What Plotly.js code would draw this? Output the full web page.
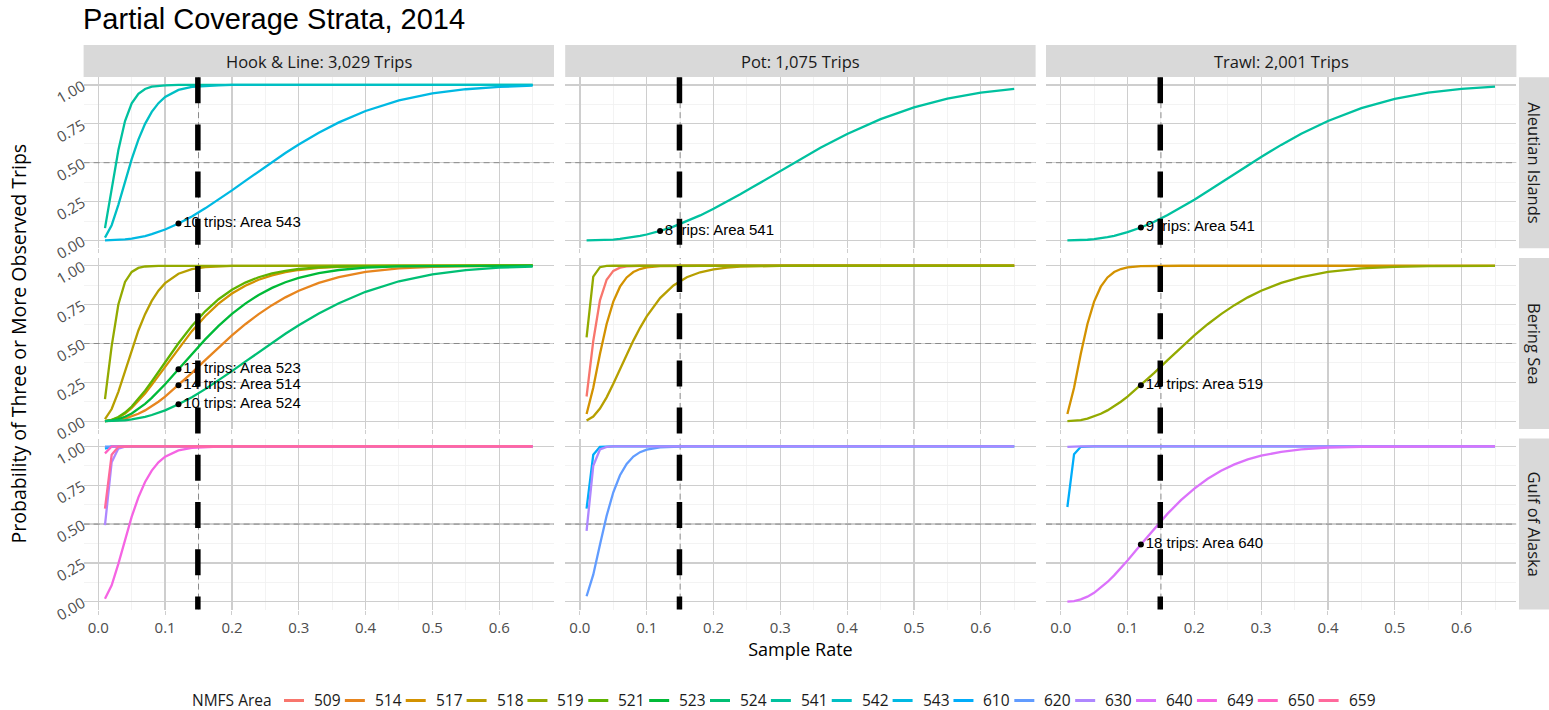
<!DOCTYPE html>
<html><head><meta charset="utf-8">
<script src="https://cdn.plot.ly/plotly-3.0.1.min.js"></script>
<style>html,body{margin:0;padding:0;background:#fff}#chart{width:1549px;height:710px}</style>
</head><body><div id="chart"></div>
<script>
// ---------------- data ----------------
const sampleRate = [0.01,0.02,0.03,0.04,0.05,0.06,0.07,0.08,0.09,0.10,0.12,0.14,0.16,0.18,0.20,0.22,0.24,0.26,0.28,0.30,0.33,0.36,0.40,0.45,0.50,0.55,0.60,0.65];

const gears = ["Hook & Line", "Pot", "Trawl"];
const gearTrips = ["3,029", "1,075", "2,001"];
const regions = ["Aleutian Islands", "Bering Sea", "Gulf of Alaska"];

const areas = ["509","514","517","518","519","521","523","524","541","542","543","610","620","630","640","649","650","659"];
const areaColors = ["#F8766D","#E7851E","#D39200","#B79F00","#93AA00","#5EB300","#00BA38","#00BF74","#00C19F","#00BFC4","#00B9E3","#00ADFA","#619CFF","#AE87FF","#DB72FB","#F564E3","#FF61C3","#FF699C"];

// Hook & Line
const hal_ai_541 = [0.079,0.323,0.580,0.768,0.882,0.943,0.974,0.989,0.995,0.998,1,1,1,1,1,1,1,1,1,1,1,1,1,1,1,1,1,1];
const hal_ai_542 = [0.018,0.098,0.229,0.378,0.523,0.649,0.750,0.827,0.883,0.923,0.968,0.988,0.995,0.998,1,1,1,1,1,1,1,1,1,1,1,1,1,1];
const hal_ai_543 = [0.0001,0.0009,0.0027,0.0062,0.0115,0.0188,0.0284,0.0401,0.0540,0.0702,0.1087,0.1545,0.2064,0.2628,0.3222,0.3832,0.4441,0.5043,0.5622,0.6172,0.6931,0.7594,0.8327,0.9004,0.9453,0.9726,0.9877,0.9952];

const hal_bs_514 = [0.0003,0.0025,0.0077,0.0167,0.0301,0.0478,0.0697,0.0958,0.1256,0.1584,0.2317,0.3111,0.3932,0.4745,0.5520,0.6239,0.6890,0.7467,0.7967,0.8392,0.8899,0.9271,0.9602,0.9830,0.9935,0.9978,0.9994,0.9999];
const hal_bs_517 = [0.0012,0.0081,0.0240,0.0497,0.0849,0.1285,0.1786,0.2337,0.2920,0.3516,0.4698,0.5794,0.6757,0.7564,0.8213,0.8720,0.9103,0.9385,0.9587,0.9729,0.9861,0.9933,0.9976,0.9994,0.9999,1,1,1];
const hal_bs_518 = [0.0138,0.0784,0.1892,0.3233,0.4594,0.5838,0.6890,0.7740,0.8395,0.8883,0.9487,0.9779,0.9910,0.9965,0.9987,0.9995,1,1,1,1,1,1,1,1,1,1,1,1];
const hal_bs_519 = [0.142,0.483,0.751,0.896,0.9605,0.986,0.9953,0.9985,0.9995,0.9999,1,1,1,1,1,1,1,1,1,1,1,1,1,1,1,1,1,1];
const hal_bs_521 = [0.0013,0.0093,0.0272,0.0559,0.0948,0.1425,0.1968,0.2558,0.3175,0.3799,0.5018,0.6123,0.7070,0.7846,0.8455,0.8919,0.9261,0.9505,0.9677,0.9793,0.9899,0.9953,0.9984,0.9996,0.9999,1,1,1];
const hal_bs_523 = [0.0006,0.0044,0.0134,0.0286,0.0503,0.0782,0.1118,0.1502,0.1928,0.2382,0.3346,0.4324,0.5266,0.6133,0.6904,0.7567,0.8123,0.8578,0.8942,0.9226,0.9532,0.9728,0.9877,0.9959,0.9988,0.9997,0.9999,1];
const hal_bs_524 = [0.0001,0.0009,0.0027,0.0062,0.0115,0.0188,0.0284,0.0401,0.0540,0.0702,0.1087,0.1545,0.2064,0.2628,0.3222,0.3832,0.4441,0.5043,0.5622,0.6172,0.6931,0.7594,0.8327,0.9004,0.9453,0.9726,0.9877,0.9952];

const hal_goa_610 = [0.986,1,1,1,1,1,1,1,1,1,1,1,1,1,1,1,1,1,1,1,1,1,1,1,1,1,1,1];
const hal_goa_620 = [0.999,1,1,1,1,1,1,1,1,1,1,1,1,1,1,1,1,1,1,1,1,1,1,1,1,1,1,1];
const hal_goa_630 = [0.494,0.898,0.986,0.9985,1,1,1,1,1,1,1,1,1,1,1,1,1,1,1,1,1,1,1,1,1,1,1,1];
const hal_goa_649 = [0.0195,0.1059,0.2445,0.4002,0.5478,0.6722,0.7710,0.8445,0.8970,0.9334,0.9737,0.9903,0.9966,0.9989,0.9997,1,1,1,1,1,1,1,1,1,1,1,1,1];
const hal_goa_650 = [0.955,0.9995,1,1,1,1,1,1,1,1,1,1,1,1,1,1,1,1,1,1,1,1,1,1,1,1,1,1];
const hal_goa_659 = [0.599,0.946,0.9969,1,1,1,1,1,1,1,1,1,1,1,1,1,1,1,1,1,1,1,1,1,1,1,1,1];

// Pot
const pot_ai_541 = [0.0001,0.0004,0.0014,0.0031,0.0058,0.0096,0.0147,0.0211,0.0289,0.0381,0.0608,0.0891,0.1226,0.1608,0.2031,0.2487,0.2967,0.3465,0.3973,0.4482,0.5236,0.5958,0.6846,0.7799,0.8555,0.9115,0.9502,0.9747];
const pot_bs_509 = [0.159,0.516,0.778,0.910,0.967,0.988,0.996,0.999,1,1,1,1,1,1,1,1,1,1,1,1,1,1,1,1,1,1,1,1];
const pot_bs_517 = [0.0465,0.2156,0.4320,0.6253,0.7694,0.8655,0.9250,0.9596,0.9789,0.9893,0.9974,0.9994,0.9999,1,1,1,1,1,1,1,1,1,1,1,1,1,1,1];
const pot_bs_518 = [0.0048,0.0301,0.0812,0.1537,0.2407,0.3344,0.4287,0.5186,0.6010,0.6745,0.7919,0.8731,0.9259,0.9583,0.9774,0.9882,0.9940,0.9971,0.9986,0.9993,1,1,1,1,1,1,1,1];
const pot_bs_519 = [0.540,0.930,0.991,0.9995,1,1,1,1,1,1,1,1,1,1,1,1,1,1,1,1,1,1,1,1,1,1,1,1];
const pot_goa_610 = [0.599,0.946,0.997,1,1,1,1,1,1,1,1,1,1,1,1,1,1,1,1,1,1,1,1,1,1,1,1,1];
const pot_goa_620 = [0.0358,0.1749,0.3672,0.5537,0.7046,0.8140,0.8875,0.9343,0.9628,0.9794,0.9941,0.9985,0.9996,1,1,1,1,1,1,1,1,1,1,1,1,1,1,1];
const pot_goa_630 = [0.456,0.875,0.980,0.997,1,1,1,1,1,1,1,1,1,1,1,1,1,1,1,1,1,1,1,1,1,1,1,1];

// Trawl
const trawl_ai_541 = [0.0001,0.0006,0.0020,0.0045,0.0084,0.0138,0.0209,0.0298,0.0405,0.0530,0.0833,0.1202,0.1629,0.2104,0.2618,0.3158,0.3713,0.4273,0.4829,0.5372,0.6146,0.6857,0.7682,0.8505,0.9102,0.9502,0.9750,0.9888];
const trawl_bs_517 = [0.0465,0.2156,0.4320,0.6253,0.7694,0.8655,0.9250,0.9596,0.9789,0.9893,0.9974,0.9994,0.9999,1,1,1,1,1,1,1,1,1,1,1,1,1,1,1];
const trawl_bs_519 = [0.0003,0.0025,0.0077,0.0167,0.0301,0.0478,0.0697,0.0958,0.1256,0.1584,0.2317,0.3111,0.3932,0.4745,0.5520,0.6239,0.6890,0.7467,0.7967,0.8392,0.8899,0.9271,0.9602,0.9830,0.9935,0.9978,0.9994,0.9999];
const trawl_goa_610 = [0.610,0.950,0.997,1,1,1,1,1,1,1,1,1,1,1,1,1,1,1,1,1,1,1,1,1,1,1,1,1];
const trawl_goa_630 = [0.997,1,1,1,1,1,1,1,1,1,1,1,1,1,1,1,1,1,1,1,1,1,1,1,1,1,1,1];
const trawl_goa_640 = [0.0007,0.0052,0.0157,0.0333,0.0581,0.0898,0.1275,0.1702,0.2168,0.2662,0.3690,0.4713,0.5673,0.6537,0.7287,0.7916,0.8430,0.8839,0.9158,0.9400,0.9652,0.9807,0.9918,0.9975,0.9993,0.9999,1,1];

// series list: [gear index, region index, area, values]
const seriesList = [
  [0,0,"541",hal_ai_541],[0,0,"542",hal_ai_542],[0,0,"543",hal_ai_543],
  [0,1,"514",hal_bs_514],[0,1,"517",hal_bs_517],[0,1,"518",hal_bs_518],[0,1,"519",hal_bs_519],
  [0,1,"521",hal_bs_521],[0,1,"523",hal_bs_523],[0,1,"524",hal_bs_524],
  [0,2,"610",hal_goa_610],[0,2,"620",hal_goa_620],[0,2,"630",hal_goa_630],[0,2,"649",hal_goa_649],
  [0,2,"650",hal_goa_650],[0,2,"659",hal_goa_659],
  [1,0,"541",pot_ai_541],
  [1,1,"509",pot_bs_509],[1,1,"517",pot_bs_517],[1,1,"518",pot_bs_518],[1,1,"519",pot_bs_519],
  [1,2,"610",pot_goa_610],[1,2,"620",pot_goa_620],[1,2,"630",pot_goa_630],
  [2,0,"541",trawl_ai_541],
  [2,1,"517",trawl_bs_517],[2,1,"519",trawl_bs_519],
  [2,2,"610",trawl_goa_610],[2,2,"630",trawl_goa_630],[2,2,"640",trawl_goa_640]
];

// labelled points
const labelGear   = [0,0,0,0,1,2,2,2];
const labelRegion = [0,1,1,1,0,0,1,2];
const labelRate   = [0.12,0.12,0.12,0.12,0.12,0.12,0.12,0.12];
const labelProb   = [0.109,0.335,0.232,0.109,0.061,0.083,0.232,0.369];
const labelText   = ["10 trips: Area 543","17 trips: Area 523","14 trips: Area 514","10 trips: Area 524",
                     "8 trips: Area 541","9 trips: Area 541","14 trips: Area 519","18 trips: Area 640"];

const targetRate = 0.15;
const halfLine = 0.5;
const xRange = [-0.022, 0.682];
const yRange = [-0.05, 1.05];
const xTicks = [0,0.1,0.2,0.3,0.4,0.5,0.6];
const xTickText = ["0.0","0.1","0.2","0.3","0.4","0.5","0.6"];
const yTicks = [0,0.25,0.5,0.75,1];
const yTickText = ["0.00","0.25","0.50","0.75","1.00"];

// ---------------- layout geometry (pixels) ----------------
const W = 1549, H = 710;
const colLeft = [83.6, 565.2, 1046.0], colWidth = 470.4;
const rowTop = [77.2, 258.0, 438.6], rowHeight = 171.0;
const px = v => v / W;
const py = v => 1 - v / H;

const uiFont = "Open Sans, sans-serif";
const arialFont = "Liberation Sans, Arial, sans-serif";
const majorGrid = "#CECECE", minorGrid = "#F0F0F0";

const layout = {
  width: W, height: H,
  margin: {l:0, r:0, t:0, b:0},
  paper_bgcolor: "#FFFFFF", plot_bgcolor: "#FFFFFF",
  showlegend: false,
  title: {text: "Partial Coverage Strata, 2014", font: {family: arialFont, size: 29, color: "#000000"},
          x: px(83), xanchor: "left", xref: "paper", y: py(19), yanchor: "middle", yref: "paper"},
  shapes: [], annotations: []
};

const axId = (r, c) => r * 3 + c + 1;
const axName = (k, l) => (k === 1 ? l : l + k);
for (let r = 0; r < 3; r++) {
  for (let c = 0; c < 3; c++) {
    const k = axId(r, c);
    const xr = axName(k, "x"), yr = axName(k, "y");
    layout[axName(k, "xaxis")] = {
      domain: [px(colLeft[c]), px(colLeft[c] + colWidth)], anchor: yr,
      range: xRange, tickvals: xTicks, ticktext: xTickText,
      showticklabels: r === 2, tickfont: {family: uiFont, size: 15, color: "#4D4D4D"},
      ticks: "outside", ticklen: 4, tickcolor: majorGrid, tickwidth: 1,
      showgrid: true, gridcolor: majorGrid, gridwidth: 1.3,
      minor: {tickvals: [0.05,0.15,0.25,0.35,0.45,0.55,0.65], showgrid: true, gridcolor: minorGrid, gridwidth: 0.8},
      zeroline: false, showline: false, fixedrange: true
    };
    layout[axName(k, "yaxis")] = {
      domain: [py(rowTop[r] + rowHeight), py(rowTop[r])], anchor: xr,
      range: yRange, tickvals: yTicks, ticktext: yTickText,
      showticklabels: c === 0, tickangle: -30, tickfont: {family: uiFont, size: 15, color: "#4D4D4D"},
      ticks: "", showgrid: true, gridcolor: majorGrid, gridwidth: 1.3,
      minor: {tickvals: [0.125,0.375,0.625,0.875], showgrid: true, gridcolor: minorGrid, gridwidth: 0.8},
      zeroline: false, showline: false, fixedrange: true
    };
    if (r === 2 && c === 1) {
      layout[axName(k, "xaxis")].title = {text: "Sample Rate", font: {family: uiFont, size: 18, color: "#000000"}, standoff: 6};
    }
    // thin grey dashed reference lines
    layout.shapes.push({type: "line", layer: "between", xref: xr, yref: yr, x0: xRange[0], x1: xRange[1], y0: halfLine, y1: halfLine,
                        line: {color: "#8A8A8A", width: 1, dash: "6px,4px"}});
    layout.shapes.push({type: "line", layer: "between", xref: xr, yref: yr, x0: targetRate, x1: targetRate, y0: yRange[0], y1: yRange[1],
                        line: {color: "#8A8A8A", width: 1, dash: "6px,4px"}});
  }
}

// y-axis title
layout.annotations.push({xref: "paper", yref: "paper", x: px(18), y: py(343.4), xanchor: "center", yanchor: "middle",
  showarrow: false, textangle: -90, text: "Probability of Three or More Observed Trips",
  font: {family: uiFont, size: 19.5, color: "#000000"}});

// strips
for (let c = 0; c < 3; c++) {
  layout.shapes.push({type: "rect", xref: "paper", yref: "paper", layer: "below",
    x0: px(colLeft[c]), x1: px(colLeft[c] + colWidth), y0: py(77), y1: py(45),
    fillcolor: "#D9D9D9", line: {width: 0}});
  layout.annotations.push({xref: "paper", yref: "paper", x: px(colLeft[c] + colWidth / 2), y: py(61),
    xanchor: "center", yanchor: "middle", showarrow: false,
    text: gears[c] + ": " + gearTrips[c] + " Trips", font: {family: uiFont, size: 16.5, color: "#1A1A1A"}});
}
for (let r = 0; r < 3; r++) {
  layout.shapes.push({type: "rect", xref: "paper", yref: "paper", layer: "below",
    x0: px(1519), x1: 1, y0: py(rowTop[r] + rowHeight), y1: py(rowTop[r]),
    fillcolor: "#D9D9D9", line: {width: 0}});
  layout.annotations.push({xref: "paper", yref: "paper", x: px(1534.5), y: py(rowTop[r] + rowHeight / 2),
    xanchor: "center", yanchor: "middle", showarrow: false, textangle: 90,
    text: regions[r], font: {family: uiFont, size: 16.5, color: "#1A1A1A"}});
}

// thick black dashed line at the target sample rate, one per column, through all rows
for (let c = 0; c < 3; c++) {
  layout.shapes.push({type: "line", layer: "above", xref: axName(axId(0, c), "x"), yref: "paper",
    x0: targetRate - 0.001, x1: targetRate - 0.001, y0: py(rowTop[0]), y1: py(rowTop[2] + rowHeight),
    line: {color: "#000000", width: 5.5, dash: "26px,21.2px"}});
}

// manual legend
const legY = 699.5;
layout.annotations.push({xref: "paper", yref: "paper", x: px(190), y: py(legY), xanchor: "left", yanchor: "middle",
  showarrow: false, text: "NMFS Area", font: {family: uiFont, size: 15.5, color: "#1A1A1A"}});
areas.forEach((a, i) => {
  const tx = 312 + 60.86 * i;
  layout.shapes.push({type: "line", xref: "paper", yref: "paper", x0: px(tx - 28), x1: px(tx - 8), y0: py(legY + 1), y1: py(legY + 1),
    line: {color: areaColors[i], width: 3}});
  layout.annotations.push({xref: "paper", yref: "paper", x: px(tx), y: py(legY), xanchor: "left", yanchor: "middle",
    showarrow: false, text: a, font: {family: uiFont, size: 15.5, color: "#1A1A1A"}});
});

// ---------------- traces ----------------
const traces = [];
seriesList.forEach(([g, rg, area, vals]) => {
  const k = axId(rg, g);
  traces.push({
    type: "scatter", mode: "lines", x: sampleRate, y: vals,
    xaxis: axName(k, "x"), yaxis: axName(k, "y"),
    line: {color: areaColors[areas.indexOf(area)], width: 2.3},
    name: area, hoverinfo: "skip", showlegend: false
  });
});
labelText.forEach((t, i) => {
  const k = axId(labelRegion[i], labelGear[i]);
  traces.push({
    type: "scatter", mode: "markers+text", x: [labelRate[i]], y: [labelProb[i]], text: [t],
    textposition: "middle right", textfont: {family: arialFont, size: 15, color: "#000000"},
    marker: {color: "#000000", size: 6},
    xaxis: axName(k, "x"), yaxis: axName(k, "y"),
    hoverinfo: "skip", showlegend: false
  });
});

Plotly.newPlot("chart", traces, layout, {staticPlot: true, displayModeBar: false});
</script>
</body></html>
